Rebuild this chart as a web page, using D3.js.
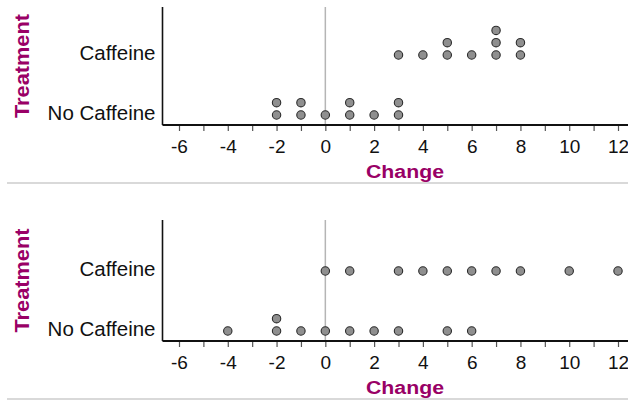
<!DOCTYPE html>
<html>
<head>
<meta charset="utf-8">
<script src="https://cdn.jsdelivr.net/npm/d3@7"></script>
<style>
  html, body { margin: 0; padding: 0; background: #fff; }
  svg { display: block; }
</style>
</head>
<body>
<svg id="chart" width="628" height="400"></svg>
<script>
// ---- data ----
const categories = ["No Caffeine", "Caffeine"];
const tickValues = [-6, -4, -2, 0, 2, 4, 6, 8, 10, 12];
const xTitle = "Change";
const yTitle = "Treatment";
// panel 1 values
const top_noCaffeine = [-2, -2, -1, -1, 0, 1, 1, 2, 3, 3];
const top_caffeine   = [3, 4, 5, 5, 6, 7, 7, 7, 8, 8];
// panel 2 values
const bot_noCaffeine = [-4, -2, -2, -1, 0, 1, 2, 3, 5, 6];
const bot_caffeine   = [0, 1, 3, 4, 5, 6, 7, 8, 10, 12];

const panels = [
  { top: 7, bottom: 125, sep: 183, series: { "No Caffeine": top_noCaffeine, "Caffeine": top_caffeine } },
  { top: 220, bottom: 341, sep: 399, series: { "No Caffeine": bot_noCaffeine, "Caffeine": bot_caffeine } }
];

const svg = d3.select("#chart");
const W = 628;
const axisLeft = 162.5;
const purple = "#990066";

const x = d3.scaleLinear().domain([-6, 12]).range([179, 618]);
const minorTicks = d3.range(-6, 13, 1);

panels.forEach(p => {
  const g = svg.append("g");
  const y = d3.scalePoint().domain(categories).range([p.bottom - 10, p.bottom - 70]);

  // separator line
  g.append("line").attr("x1", 7).attr("x2", W).attr("y1", p.sep).attr("y2", p.sep)
    .attr("stroke", "#cccccc").attr("stroke-width", 1.5);

  // zero reference line
  g.append("line").attr("x1", x(0)).attr("x2", x(0)).attr("y1", p.top).attr("y2", p.bottom)
    .attr("stroke", "#b5b5b5").attr("stroke-width", 1.5);

  // x axis
  const xAxis = d3.axisBottom(x).tickValues(minorTicks).tickSizeInner(6).tickSizeOuter(0)
    .tickFormat(d => tickValues.includes(d) ? d3.format("")(d).replace("−", "-") : "");
  const ax = g.append("g").attr("transform", `translate(0,${p.bottom})`).call(xAxis);
  ax.select(".domain").remove();
  ax.selectAll(".tick line").attr("stroke", "#555").attr("stroke-width", 1.2);
  ax.selectAll(".tick text").attr("font-family", "Liberation Sans, Arial, sans-serif")
    .attr("font-size", 19).attr("fill", "#111").attr("dy", "0.98em");
  g.append("line").attr("x1", axisLeft).attr("x2", W).attr("y1", p.bottom).attr("y2", p.bottom)
    .attr("stroke", "#111").attr("stroke-width", 1.8);

  // y axis line
  g.append("line").attr("x1", axisLeft).attr("x2", axisLeft).attr("y1", p.top).attr("y2", p.bottom)
    .attr("stroke", "#111").attr("stroke-width", 1.6);

  // category labels
  g.selectAll("text.cat").data(categories).join("text").attr("class", "cat")
    .attr("x", axisLeft - 7).attr("y", d => y(d) - 2.5).attr("dy", "0.35em")
    .attr("text-anchor", "end").attr("font-family", "Liberation Sans, Arial, sans-serif")
    .attr("font-size", 20.5).attr("fill", "#111").text(d => d);

  // dots (stacked)
  const dots = [];
  categories.forEach(c => {
    const counts = {};
    p.series[c].forEach(v => {
      counts[v] = (counts[v] || 0);
      dots.push({ c, v, k: counts[v] });
      counts[v] += 1;
    });
  });
  g.selectAll("circle").data(dots).join("circle")
    .attr("cx", d => x(d.v)).attr("cy", d => y(d.c) - d.k * 12.3)
    .attr("r", 4.2).attr("fill", "#8f8f8f").attr("stroke", "#2b2b2b").attr("stroke-width", 1.1);

  // x title
  g.append("text").attr("x", 405).attr("y", p.bottom + 52.5)
    .attr("text-anchor", "middle").attr("font-family", "Liberation Sans, Arial, sans-serif")
    .attr("font-weight", "bold").attr("font-size", 18).attr("fill", purple)
    .attr("textLength", 78).attr("lengthAdjust", "spacingAndGlyphs").text(xTitle);

  // y title
  const cy = (p.top + p.bottom) / 2;
  g.append("text").attr("transform", `translate(29,${cy}) rotate(-90)`)
    .attr("text-anchor", "middle").attr("font-family", "Liberation Sans, Arial, sans-serif")
    .attr("font-weight", "bold").attr("font-size", 21).attr("fill", purple)
    .attr("textLength", 104).attr("lengthAdjust", "spacingAndGlyphs").text(yTitle);
});
</script>
</body>
</html>
